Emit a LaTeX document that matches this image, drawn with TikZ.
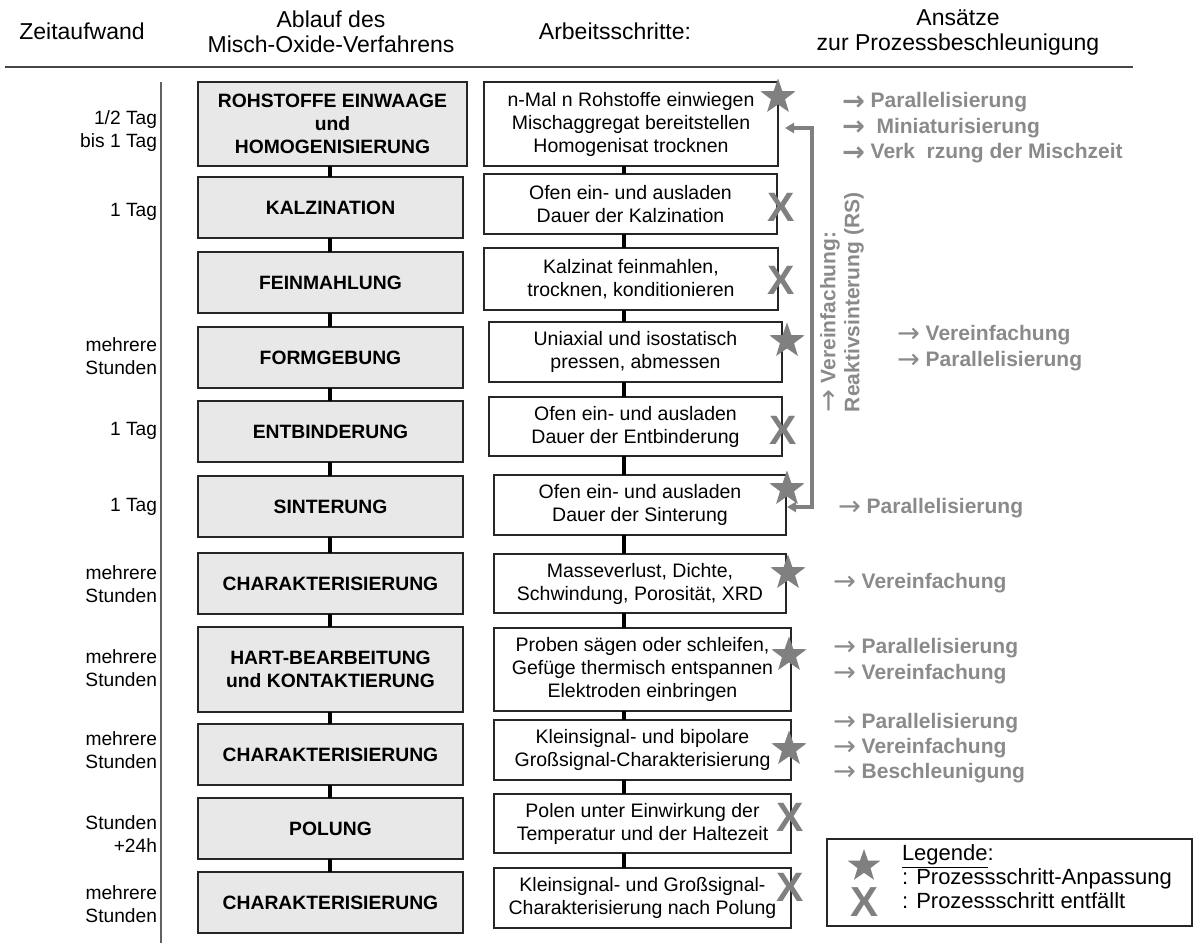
\documentclass[tikz,border=0pt]{standalone}
\usepackage{fontspec}
\setmainfont{Liberation Sans}
\newfontfamily\arrowfont[Scale=1.3]{DejaVu Sans}
\usetikzlibrary{shapes.geometric,arrows.meta,calc}
\definecolor{symgray}{RGB}{128,128,128}
\definecolor{txtgray}{RGB}{138,138,138}
\definecolor{boxfill}{RGB}{232,232,232}
\definecolor{rulegray}{RGB}{70,70,70}
\newcommand{\fs}[2]{\fontsize{#1}{#2}\selectfont}
\newcommand{\ra}{\raisebox{-2.2pt}{\arrowfont\mdseries →}}
\newcommand{\rab}{\raisebox{-2.2pt}{\arrowfont\bfseries →}}
\begin{document}
\begin{tikzpicture}[x=1pt,y=-1pt,
  every node/.style={inner sep=0pt, outer sep=0pt},
  lbox/.style={draw=black!85, line width=1.3pt, fill=boxfill, align=center, font=\fs{19.3}{23}\bfseries, anchor=north west},
  rbox/.style={draw=black!85, line width=1.3pt, fill=white, align=center, font=\fs{19.5}{23}, anchor=north west},
  conn/.style={line width=4pt, black},
  timelbl/.style={anchor=east, align=right, font=\fs{19.2}{22.5}},
  hdr/.style={align=center, font=\fs{23}{25}},
  starsym/.style={star, star points=5, star point ratio=2.5, fill=symgray, minimum size=37pt},
  xsym/.style={text=symgray, font=\fs{41}{41}\bfseries},
  gtxt/.style={anchor=west, align=left, text=txtgray, font=\fs{21}{25.5}\bfseries},
]
\useasboundingbox (0,0) rectangle (1203,943);

% header
\node[hdr] (h1) at (82,31) {Zeitaufwand};
\node[hdr] (h2) at (331,32) {Ablauf des\\Misch-Oxide-Verfahrens};
\node[hdr] (h3) at (615,31) {Arbeitsschritte:};
\node[hdr] (h4) at (958,32) {Ansätze\\zur Prozessbeschleunigung};
\draw[line width=2.5pt, rulegray] (5,67) -- (1133,67);
\draw[line width=2pt, rulegray!85] (161,82) -- (161,943);

% left column
\node[lbox, minimum width=269pt, minimum height=84pt] (L1) at (198,82) {ROHSTOFFE EINWAAGE\\und\\HOMOGENISIERUNG};
\node[lbox, minimum width=265pt, minimum height=61pt] (L2) at (198,177) {KALZINATION};
\node[lbox, minimum width=265pt, minimum height=61pt] (L3) at (198,252) {FEINMAHLUNG};
\node[lbox, minimum width=265pt, minimum height=61pt] (L4) at (198,327) {FORMGEBUNG};
\node[lbox, minimum width=265pt, minimum height=61pt] (L5) at (198,401) {ENTBINDERUNG};
\node[lbox, minimum width=265pt, minimum height=61pt] (L6) at (198,476) {SINTERUNG};
\node[lbox, minimum width=265pt, minimum height=61pt] (L7) at (198,553) {CHARAKTERISIERUNG};
\node[lbox, minimum width=265pt, minimum height=85pt] (L8) at (198,627) {HART-BEARBEITUNG\\und KONTAKTIERUNG};
\node[lbox, minimum width=265pt, minimum height=61pt] (L9) at (198,724) {CHARAKTERISIERUNG};
\node[lbox, minimum width=265pt, minimum height=61pt] (L10) at (198,798) {POLUNG};
\node[lbox, minimum width=265pt, minimum height=61pt] (L11) at (198,872) {CHARAKTERISIERUNG};

% right column
\node[rbox, minimum width=294pt, minimum height=84pt] (R1) at (484,82) {n-Mal n Rohstoffe einwiegen\\Mischaggregat bereitstellen\\Homogenisat trocknen};
\node[rbox, minimum width=293pt, minimum height=60pt] (R2) at (484,174) {Ofen ein- und ausladen\\Dauer der Kalzination};
\node[rbox, minimum width=294pt, minimum height=62pt] (R3) at (484,248) {Kalzinat feinmahlen,\\trocknen, konditionieren};
\node[rbox, minimum width=293pt, minimum height=60pt] (R4) at (489,322) {Uniaxial und isostatisch\\pressen, abmessen};
\node[rbox, minimum width=293pt, minimum height=59pt] (R5) at (489,397) {Ofen ein- und ausladen\\Dauer der Entbinderung};
\node[rbox, minimum width=292pt, minimum height=60pt] (R6) at (494,475) {Ofen ein- und ausladen\\Dauer der Sinterung};
\node[rbox, minimum width=292pt, minimum height=59pt] (R7) at (494,554) {Masseverlust, Dichte,\\Schwindung, Porosität, XRD};
\node[rbox, minimum width=297pt, minimum height=83pt] (R8) at (494,628) {Proben sägen oder schleifen,\\Gefüge thermisch entspannen\\Elektroden einbringen};
\node[rbox, minimum width=297pt, minimum height=60pt] (R9) at (494,720) {Kleinsignal- und bipolare\\Großsignal-Charakterisierung};
\node[rbox, minimum width=297pt, minimum height=59pt] (R10) at (494,794) {Polen unter Einwirkung der\\Temperatur und der Haltezeit};
\node[rbox, minimum width=297pt, minimum height=60pt] (R11) at (494,868) {Kleinsignal- und Großsignal-\\Charakterisierung nach Polung};

% connectors
\coordinate (cl) at (330,0);
\coordinate (cr) at (624,0);
\foreach \a/\b in {L1/L2,L2/L3,L3/L4,L4/L5,L5/L6,L6/L7,L7/L8,L8/L9,L9/L10,L10/L11}
  \draw[conn] (\a.south -| cl) -- (\b.north -| cl);
\foreach \a/\b in {R1/R2,R2/R3,R3/R4,R4/R5,R5/R6,R6/R7,R7/R8,R8/R9,R9/R10,R10/R11}
  \draw[conn] (\a.south -| cr) -- (\b.north -| cr);

% time labels
\node[timelbl] (t1) at (157,131) {1/2 Tag\\bis 1 Tag};
\node[timelbl] (t2) at (157,212) {1 Tag};
\node[timelbl] (t4) at (157,356) {mehrere\\Stunden};
\node[timelbl] (t5) at (157,431) {1 Tag};
\node[timelbl] (t6) at (157,507) {1 Tag};
\node[timelbl] (t7) at (157,584) {mehrere\\Stunden};
\node[timelbl] (t8) at (157,668) {mehrere\\Stunden};
\node[timelbl] (t9) at (157,750) {mehrere\\Stunden};
\node[timelbl] (t10) at (157,834) {Stunden\\+24h};
\node[timelbl] (t11) at (157,904) {mehrere\\Stunden};

% feedback arrow
\coordinate (a1) at ($(R1.east)+(7,4)$);
\coordinate (a2) at ($(R6.east)+(1,2)$);
\coordinate (vx) at (812,0);
\draw[symgray, line width=3.5pt, {Triangle[length=9pt,width=10pt]}-{Triangle[length=9pt,width=10pt]}] (a1) -| (vx |- a2) -- (a2);
\node[rotate=90, anchor=west, align=left, text=txtgray, font=\fs{21}{24}\bfseries] (rs) at (842,412) {\ra\ Vereinfachung:\\Reaktivsinterung (RS)};

% symbols
\node[starsym] (s1) at (778,97) {};
\node[xsym] (x2) at (781,207) {X};
\node[xsym] (x3) at (781,280) {X};
\node[starsym] (s4) at (787,341) {};
\node[xsym] (x5) at (783,430) {X};
\node[starsym] (s6) at (787,489) {};
\node[starsym] (s7) at (788,573) {};
\node[starsym] (s8) at (789,655) {};
\node[starsym] (s9) at (789,749) {};
\node[xsym] (x10) at (790,817) {X};
\node[xsym] (x11) at (790,887) {X};

% gray suggestions
\node[gtxt] (gA) at (842,128) {\rab\ Parallelisierung\\\rab\ \ Miniaturisierung\\\rab\ Verk\hspace{0.55em}rzung der Mischzeit};
\node[gtxt, font=\fs{21}{26}\bfseries] (gB) at (897,348) {\ra\ Vereinfachung\\\ra\ Parallelisierung};
\node[gtxt] (gC) at (838,508) {\ra\ Parallelisierung};
\node[gtxt] (gD) at (833,583) {\ra\ Vereinfachung};
\node[gtxt, font=\fs{21}{26}\bfseries] (gE) at (833,661) {\ra\ Parallelisierung\\\ra\ Vereinfachung};
\node[gtxt, font=\fs{21}{25}\bfseries] (gF) at (833,748) {\ra\ Parallelisierung\\\ra\ Vereinfachung\\\ra\ Beschleunigung};

% legend
\node[draw=black!85, line width=1.3pt, minimum width=365pt, minimum height=87pt, anchor=north west] (leg) at (827,839) {};
\node[starsym, minimum size=34pt] (ls) at (864,866) {};
\node[xsym, font=\fs{42}{42}\bfseries] (lx) at (864,902) {X};
\node[anchor=west, align=left, font=\fs{22}{24}] (legt) at (902,877) {\underline{Legende}:\\: Prozessschritt-Anpassung\\: Prozessschritt entfällt};
\end{tikzpicture}
\end{document}
